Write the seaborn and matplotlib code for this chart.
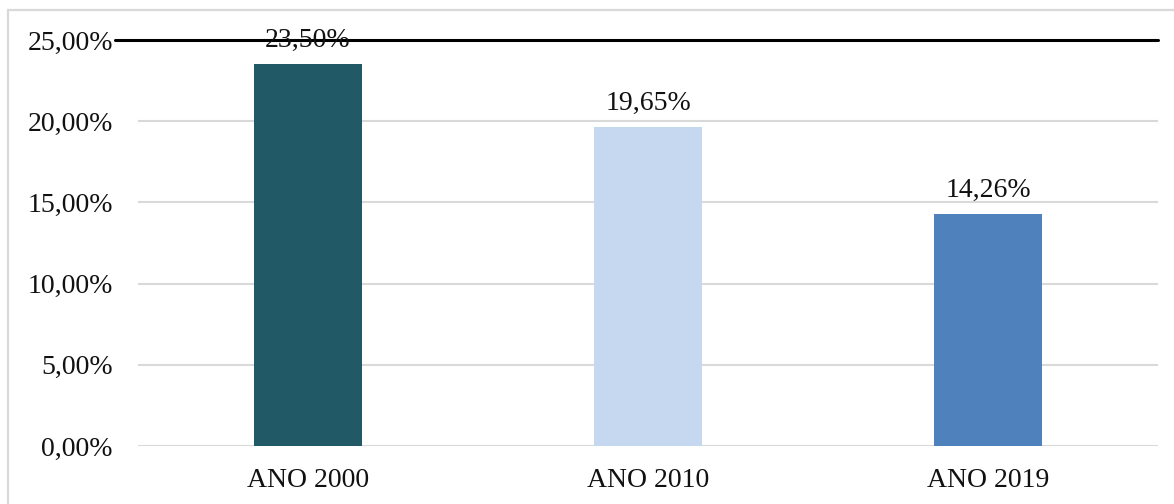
import matplotlib
matplotlib.use("Agg")
import matplotlib.pyplot as plt
from matplotlib.patches import Rectangle
import seaborn as sns
import pandas as pd

# Data
categories = ["ANO 2000", "ANO 2010", "ANO 2019"]
values = [23.50, 19.65, 14.26]
colors = ["#225966", "#C5D8EF", "#4F81BD"]
y_ticks = [0, 5, 10, 15, 20, 25]

sns.set_theme(style="white")
plt.rcParams["font.family"] = ["Liberation Serif", "DejaVu Serif"]

df = pd.DataFrame({"cat": categories, "val": values})

fig = plt.figure(figsize=(11.74, 5.04), dpi=100)
ax = fig.add_axes([138 / 1174, (504 - 446) / 504, (1158 - 138) / 1174, (446 - 40) / 504])

# outer chart frame
fig.patches.append(Rectangle((8 / 1174, -0.2), 1.2, 1.2 - 10.5 / 504,
                             transform=fig.transFigure, fill=False,
                             edgecolor="#d9d9d9", linewidth=1.6, zorder=0))

sns.barplot(data=df, x="cat", y="val", hue="cat", palette=colors,
            width=0.315, saturation=1, linewidth=0, legend=False, ax=ax,
            zorder=3)

ax.set_xlim(-0.5, 2.5)
ax.set_ylim(0, 25)
ax.set_yticks(y_ticks)
ax.set_yticklabels([f"{t:.2f}%".replace(".", ",") for t in y_ticks])

for t in y_ticks[:-1]:
    ax.axhline(t, color="#d9d9d9", linewidth=1.5, zorder=1)
# top reference line
ax.plot([-0.568, 2.5], [25, 25], color="black", linewidth=2.2,
        clip_on=False, zorder=4)

for i, v in enumerate(values):
    ax.annotate(f"{v:.2f}%".replace(".", ","), xy=(i, v), xytext=(0, 12.5),
                textcoords="offset points", ha="center", va="baseline",
                fontsize=20, color="#111111", zorder=5)

for s in ax.spines.values():
    s.set_visible(False)
ax.set_xlabel("")
ax.set_ylabel("")
ax.tick_params(axis="both", length=0, labelsize=20, colors="#111111")
ax.tick_params(axis="y", pad=18)
ax.tick_params(axis="x", pad=16)
ax.grid(False)

fig.savefig("out.png", dpi=100)
